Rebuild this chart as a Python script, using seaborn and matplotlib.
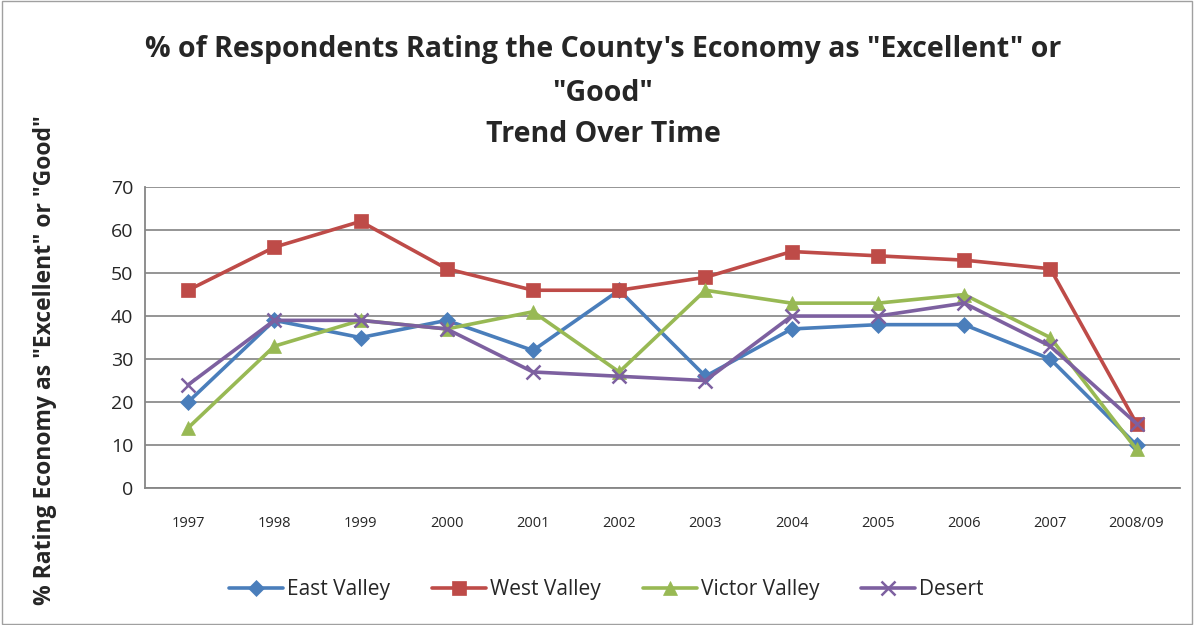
import numpy as np
import pandas as pd
import matplotlib
matplotlib.use("Agg")
import matplotlib.pyplot as plt
import seaborn as sns

# ===========================
# DATA
# ===========================

years = ["1997", "1998", "1999", "2000", "2001", "2002", "2003",
         "2004", "2005", "2006", "2007", "2008/09"]
east_valley = [20, 39, 35, 39, 32, 46, 26, 37, 38, 38, 30, 10]
west_valley = [46, 56, 62, 51, 46, 46, 49, 55, 54, 53, 51, 15]
victor_valley = [14, 33, 39, 37, 41, 27, 46, 43, 43, 45, 35, 9]
desert = [24, 39, 39, 37, 27, 26, 25, 40, 40, 43, 33, 15]

series_names = ["East Valley", "West Valley", "Victor Valley", "Desert"]
series_values = [east_valley, west_valley, victor_valley, desert]

colors = ["#4A7EBB", "#BE4B48", "#98B954", "#7D60A0"]
markers = ["D", "s", "^", "x"]
sizes = [8, 10, 10, 10]

rows = []
for name, vals in zip(series_names, series_values):
    for i, v in enumerate(vals):
        rows.append({"pos": i, "Year": years[i], "Region": name, "Value": v})
df = pd.DataFrame(rows)

# ===========================
# PLOT
# ===========================

sns.set_style("white")
plt.rcParams["font.family"] = ["Open Sans", "DejaVu Sans"]

fig = plt.figure(figsize=(11.94, 6.25), dpi=100)
ax = fig.add_axes([0.1214, 0.219, 0.8666, 0.4818])

for name, color, marker, ms in zip(series_names, colors, markers, sizes):
    sub = df[df["Region"] == name]
    sns.lineplot(data=sub, x="pos", y="Value", ax=ax, color=color,
                 marker=marker, markersize=ms, linewidth=2.6, label=name,
                 markeredgewidth=1.8 if marker == "x" else 0.5,
                 markeredgecolor=color)

ax.set_xlim(-0.5, 11.5)
ax.set_ylim(0, 70)
ax.set_yticks(range(0, 71, 10))
ax.set_xticks(range(len(years)))
ax.set_xticklabels(years, fontsize=10.5)
ax.set_xticks(np.arange(-0.5, 12, 1), minor=True)
ax.tick_params(axis="x", which="major", length=0, pad=20)
ax.tick_params(axis="x", which="minor", length=6, color="#868686", width=1.2)
ax.tick_params(axis="y", length=5, color="#868686", width=1.2, labelsize=14)
ax.tick_params(axis="y", direction="out")
ax.tick_params(axis="x", which="minor", direction="out")

ax.yaxis.grid(True, color="#8C8C8C", linewidth=1.3)
ax.xaxis.grid(False)
ax.set_axisbelow(True)
for side in ["top", "right"]:
    ax.spines[side].set_visible(False)
for side in ["left", "bottom"]:
    ax.spines[side].set_color("#868686")
    ax.spines[side].set_linewidth(1.3)

ax.set_xlabel("")
ax.set_ylabel('% Rating Economy as "Excellent" or "Good"', fontsize=16.5,
              fontweight="bold")
ax.yaxis.set_label_coords(-0.085, 0.425)

title_size = 20.5
fig.text(0.505, 0.92, '% of Respondents Rating the County\'s Economy as "Excellent" or',
         ha="center", va="center", fontsize=title_size, fontweight="bold")
fig.text(0.505, 0.851, '"Good"', ha="center", va="center", fontsize=title_size,
         fontweight="bold")
fig.text(0.505, 0.785, "Trend Over Time", ha="center", va="center",
         fontsize=title_size, fontweight="bold")

ax.legend(loc="center", bbox_to_anchor=(0.446, -0.338), ncol=4, frameon=False,
          fontsize=15, handlelength=2.6, columnspacing=2.0, handletextpad=0.2)

border = plt.Rectangle((0.002, 0.002), 0.996, 0.996, transform=fig.transFigure,
                       fill=False, edgecolor="#A0A0A0", linewidth=1)
fig.patches.append(border)

fig.savefig("out.png", dpi=100)
